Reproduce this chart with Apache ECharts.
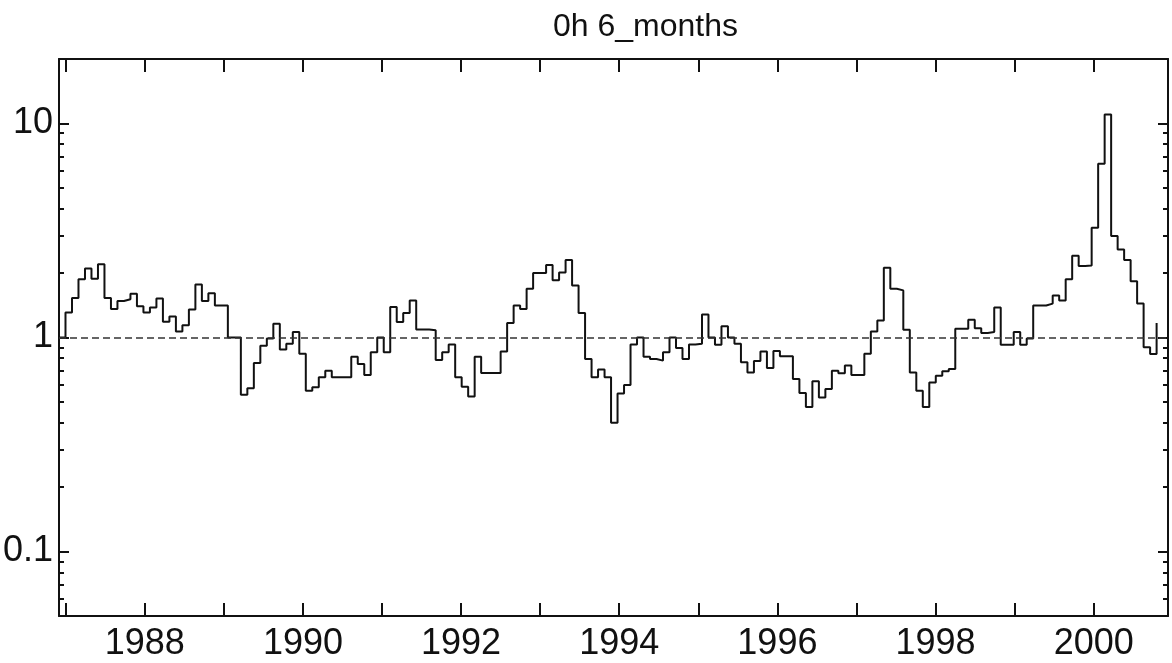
<!DOCTYPE html>
<html>
<head>
<meta charset="utf-8">
<script src="https://cdn.jsdelivr.net/npm/echarts@6/dist/echarts.min.js"></script>
<style>
  html, body { margin: 0; padding: 0; background: #fff; }
  #chart { width: 1172px; height: 663px; }
</style>
</head>
<body>
<div id="chart"></div>
<script>
// 30-day bins starting 1 Dec 1986 (decimal years)
const binStart = 1986.915;
const binYears = 30 / 365.25;

// step values (ratio), one per 30-day bin
const values = [
  1.0,
  1.31, 1.53, 1.87, 2.10, 1.88, 2.20, 1.53, 1.36, 1.48, 1.51, 1.60, 1.40,
  1.31, 1.38, 1.52, 1.185, 1.255, 1.067, 1.14, 1.35, 1.77, 1.48, 1.61, 1.41,
  1.41, 1.0, 1.0, 0.54, 0.58, 0.76, 0.914, 0.99,
  1.16, 0.88, 0.934, 1.06, 0.84, 0.564, 0.585, 0.652, 0.70, 0.652, 0.652, 0.652,
  0.814, 0.752, 0.668, 0.853, 1.0, 0.853, 1.39, 1.18, 1.30, 1.49, 1.09, 1.09,
  1.08, 0.786, 0.853, 0.927, 0.652, 0.589, 0.53, 0.814, 0.683, 0.683, 0.683,
  0.86, 1.17, 1.41, 1.36, 1.69, 2.00, 2.00, 2.18, 1.85, 2.01, 2.30, 1.75,
  1.30, 0.794, 0.652, 0.708, 0.652, 0.40, 0.548, 0.60, 0.927, 1.0, 0.814, 0.794,
  0.78, 0.853, 1.0, 0.894, 0.794, 0.927, 0.934, 1.28,
  1.0, 0.924, 1.13, 1.0, 0.934, 0.766, 0.687, 0.777, 0.86, 0.72, 0.866, 0.817,
  0.817, 0.64, 0.55, 0.474, 0.624, 0.525, 0.574, 0.70, 0.68, 0.739, 0.668, 0.668,
  0.84, 1.067, 1.20, 2.12, 1.69, 1.66, 1.087, 0.687, 0.564,
  0.474, 0.617, 0.663, 0.695, 0.713, 1.10, 1.10, 1.21, 1.106, 1.05, 1.06, 1.38,
  0.924, 0.924, 1.06, 0.924, 0.99, 1.41, 1.41, 1.44, 1.57, 1.49, 1.87, 2.41,
  2.16, 2.17, 3.26, 6.49, 11.0, 2.98, 2.58, 2.30, 1.83, 1.44, 0.90, 0.838,
  1.17
];

const xTickYears = [1987, 1988, 1989, 1990, 1991, 1992, 1993, 1994, 1995, 1996, 1997, 1998, 1999, 2000];
const xLabelYears = [1988, 1990, 1992, 1994, 1996, 1998, 2000];
const yMajor = [0.1, 1, 10];
const yMinor = [0.06, 0.07, 0.08, 0.09, 0.2, 0.3, 0.4, 0.5, 0.6, 0.7, 0.8, 0.9, 2, 3, 4, 5, 6, 7, 8, 9];
const refLevel = 1;
const titleText = '0h 6_months';

const xMin = 1986.915, xMax = 2000.94;
const yMin = 0.05, yMax = 20;

const seriesData = values.map((v, i) => [binStart + i * binYears, v]);

const labelFont = '"Liberation Sans Narrow", "Liberation Sans", Arial, sans-serif';
const ink = '#111';

function xAxisDef(pos, withLabels) {
  return {
    type: 'value', position: pos, min: xMin, max: xMax,
    axisLine: { show: true, lineStyle: { color: ink, width: 2 } },
    axisTick: { show: true, inside: true, length: 13, customValues: xTickYears, lineStyle: { color: ink, width: 2 } },
    axisLabel: withLabels ? {
      show: true, customValues: xLabelYears, margin: 10,
      fontSize: 36, color: ink, fontFamily: labelFont,
      formatter: v => String(Math.round(v))
    } : { show: false },
    splitLine: { show: false }
  };
}

function yAxisDef(pos, major, withLabels) {
  return {
    type: 'log', logBase: 10, position: pos, min: yMin, max: yMax,
    axisLine: { show: major, lineStyle: { color: ink, width: 2 } },
    axisTick: {
      show: true, inside: true, length: major ? 10 : 5,
      customValues: major ? yMajor : yMinor,
      lineStyle: { color: ink, width: 2 }
    },
    axisLabel: withLabels ? {
      show: true, customValues: yMajor, margin: 6,
      fontSize: 36, color: ink, fontFamily: labelFont,
      formatter: v => String(v)
    } : { show: false },
    splitLine: { show: false },
    minorTick: { show: false }
  };
}

const chart = echarts.init(document.getElementById('chart'), null, { renderer: 'canvas' });
chart.setOption({
  backgroundColor: '#fff',
  animation: false,
  title: {
    text: titleText, left: 553, top: 11, padding: 0,
    textStyle: { fontSize: 32, fontWeight: 'normal', color: ink, fontFamily: '"Liberation Sans", Arial, sans-serif' }
  },
  grid: { left: 59, right: 4, top: 59, bottom: 47, containLabel: false, outerBoundsMode: 'none' },
  xAxis: [xAxisDef('bottom', true), xAxisDef('top', false)],
  yAxis: [
    yAxisDef('left', true, true),
    yAxisDef('left', false, false),
    yAxisDef('right', true, false),
    yAxisDef('right', false, false)
  ],
  series: [{
    type: 'line', step: 'end', data: seriesData,
    xAxisIndex: 0, yAxisIndex: 0,
    showSymbol: false, symbol: 'none',
    lineStyle: { color: ink, width: 2 },
    markLine: {
      silent: true, symbol: 'none', label: { show: false },
      lineStyle: { color: '#333', width: 1.5, type: [7, 4] },
      data: [{ yAxis: refLevel }]
    }
  }]
});
</script>
</body>
</html>
